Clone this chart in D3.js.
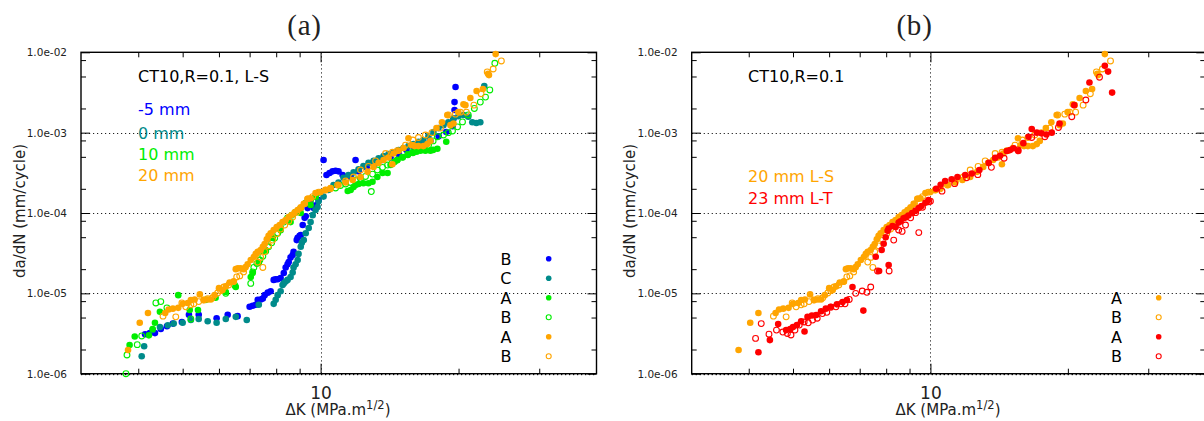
<!DOCTYPE html>
<html><head><meta charset="utf-8">
<script src="https://cdn.jsdelivr.net/npm/d3@7"></script>
<style>body{margin:0;background:#fff}svg{display:block}</style>
</head><body><svg id="c" width="1204" height="421"></svg>
<script>
// ---------------- data (ΔK in MPa.m^1/2, da/dN in mm/cycle) ----------------
const minus5B = [[4.14,3.1e-6],[4.24,3.2e-6],[4.35,3.2e-6],[4.48,3.6e-6],[4.62,3.9e-6],[4.76,4.2e-6],[4.98,4.4e-6],[5.16,5.4e-6],[5.42,5.4e-6],[5.93,4.9e-6],[6.27,5.4e-6],[6.59,5.2e-6],
[7.00,6.8e-6],[7.11,7.0e-6],[7.22,7.2e-6],[7.29,8.3e-6],[7.40,8.4e-6],[7.48,8.6e-6],[7.55,9.5e-6],[7.67,1.02e-5],[7.78,1.06e-5],[7.90,1.47e-5],[7.98,1.5e-5],[8.06,1.5e-5],[8.18,1.55e-5],[8.31,1.79e-5],[8.39,2.1e-5],[8.47,2.3e-5],[8.52,2.45e-5],[8.60,2.8e-5],[8.69,3.0e-5],[8.73,3.3e-5],[8.87,4.6e-5],[8.91,4.9e-5],[9.00,5.2e-5],[9.05,5.3e-5],[9.14,7.1e-5],[9.23,8.7e-5],[9.28,9.1e-5],[9.37,1.15e-4],[9.51,1.3e-4],[9.66,1.15e-4],[9.80,1.26e-4],[9.90,1.45e-4],
[10.15,4.56e-4],[10.30,2.97e-4],[10.46,3.15e-4],[10.62,3.3e-4],[10.78,3.35e-4],[10.94,3.3e-4],[11.17,2.97e-4],[11.92,4.56e-4],
[11.63,2.8e-4],[12.1,3.3e-4],[12.6,3.7e-4],[13.1,4.05e-4],[13.65,4.56e-4],[14.21,4.9e-4],[14.8,5.4e-4],[15.4,6.08e-4],[16.0,6.6e-4],[16.7,7.3e-4],[17.36,7.9e-4],[18.1,9.0e-4],[18.8,1.02e-3],[19.4,1.2e-3],[19.5,1.5e-3],[19.6,1.91e-3],[19.6,2.4e-3],[19.7,3.7e-3]];

const zeroC = [[4.07,1.65e-6],[4.12,2.2e-6],[4.30,3.5e-6],[4.46,3.8e-6],[4.64,4.0e-6],[4.78,4.2e-6],[5.00,4.3e-6],[5.21,4.65e-6],[5.42,4.8e-6],[5.67,4.5e-6],[5.93,4.3e-6],[6.21,4.8e-6],[6.53,5.1e-6],[6.90,4.65e-6],
[7.33,7.2e-6],[7.90,7.4e-6],[7.98,8.3e-6],[8.06,9.5e-6],[8.18,1.06e-5],[8.26,1.27e-5],[8.31,1.33e-5],[8.39,1.4e-5],[8.47,1.47e-5],[8.60,1.6e-5],[8.69,1.82e-5],[8.73,2.1e-5],[8.82,2.3e-5],[8.91,2.6e-5],[8.95,3.1e-5],[9.05,3.8e-5],[9.10,4.25e-5],[9.19,4.6e-5],[9.28,5.6e-5],[9.42,6.5e-5],[9.51,7.7e-5],[9.61,9.4e-5],[9.75,1.09e-4],[9.85,1.19e-4],[9.90,1.4e-4],
[10.15,1.6e-4],[10.4,1.93e-4],[10.67,2.23e-4],[10.94,2.4e-4],[11.22,2.75e-4],[11.5,2.97e-4],[11.8,3.2e-4],[12.1,3.5e-4],[12.4,3.85e-4],[12.72,4.2e-4],[13.05,4.45e-4],[13.38,4.8e-4],[13.72,5.1e-4],[14.07,5.4e-4],[14.43,5.7e-4],[14.8,6.08e-4],[15.17,6.45e-4],[15.55,6.8e-4],[15.95,7.2e-4],[16.35,7.7e-4],[16.76,8.1e-4],[17.19,9.1e-4],[17.63,1.02e-3],[18.08,1.14e-3],[18.54,1.24e-3],[19.0,1.35e-3],[19.49,1.5e-3],[19.98,1.6e-3],[20.5,1.66e-3],[21.0,1.58e-3],[21.43,1.35e-3],[21.87,1.32e-3],[22.31,1.35e-3],[22.76,3.8e-3]];

const tenA = [[3.83,2.28e-6],[3.93,2.9e-6],[4.22,3.0e-6],[4.30,3.6e-6],[4.35,4.3e-6],[4.46,5.9e-6],[4.89,9.5e-6],[5.18,6.2e-6],[5.40,6.2e-6],
[5.62,8.3e-6],[5.90,8.8e-6],[6.21,1.04e-5],[6.53,1.2e-5],[7.04,1.6e-5],[7.11,1.79e-5],[7.33,2.4e-5],[7.59,3.46e-5],[7.86,4.9e-5],[8.18,6.1e-5],[8.60,7.7e-5],[9.05,1.0e-4],[9.51,1.26e-4],[9.75,1.6e-4],[9.85,1.77e-4],
[11.46,1.88e-4],[11.63,1.93e-4],[11.8,2.1e-4],[11.92,2.23e-4],[12.1,2.3e-4],[12.4,2.35e-4],[12.72,2.35e-4],[12.98,2.45e-4],[13.3,2.8e-4],[13.65,3.15e-4],[14.0,3.15e-4],[14.21,3.95e-4],[14.5,4.3e-4],[14.7,4.56e-4],[15.1,4.95e-4],[15.5,5.27e-4],[15.9,5.6e-4],[16.2,5.8e-4],[16.52,5.95e-4],[16.93,5.95e-4],[17.36,5.95e-4],[17.6,6.1e-4],[17.98,6.3e-4],[18.8,7.7e-4]];

const tenB = [[3.76,1.0e-6],[3.78,1.71e-6],[3.98,2.3e-6],[4.07,2.95e-6],[4.37,7.6e-6],[4.48,7.9e-6],[4.62,6.6e-6],[5.21,4.8e-6],[6.21,1.0e-5],[6.50,1.25e-5],[7.04,1.33e-5],[7.11,1.85e-5],[7.15,2.1e-5],[7.26,2.35e-5],[7.37,2.6e-5],[7.48,2.9e-5],[7.59,3.35e-5],[7.70,3.8e-5],[7.82,4.25e-5],[7.94,4.9e-5],[8.06,5.6e-5],[8.18,6.5e-5],[8.31,7.7e-5],[8.47,8.7e-5],[8.65,9.4e-5],[8.82,1.02e-4],[9.05,1.15e-4],[9.28,1.33e-4],[9.51,1.45e-4],[9.75,1.6e-4],
[10.78,2.05e-4],[11.05,2.2e-4],[11.34,2.3e-4],[11.63,2.4e-4],[11.92,2.57e-4],[12.22,2.7e-4],[12.53,2.85e-4],[12.9,1.85e-4],[12.98,3.05e-4],[13.3,3.43e-4],[13.65,3.7e-4],[14.0,3.95e-4],[14.35,4.3e-4],[14.7,4.56e-4],[15.1,4.95e-4],[15.5,5.4e-4],[15.9,5.75e-4],[16.3,6.08e-4],[16.7,6.45e-4],[17.2,7.0e-4],[17.6,7.9e-4],[17.98,8.9e-4],[18.54,9.35e-4],[19.0,1.0e-3],[19.4,1.05e-3],[19.9,1.18e-3],[20.4,1.36e-3],[21.0,1.66e-3],[21.65,2.0e-3],[22.31,2.4e-3],[22.9,2.77e-3],[23.4,3.4e-3],[24.0,7.3e-3]];

const twentyA = [[3.80,1.97e-6],[4.03,4.3e-6],[4.20,5.7e-6],[4.58,5.7e-6],[4.66,6.3e-6],[4.76,6.45e-6],[4.89,6.6e-6],[5.00,7.4e-6],[5.13,7.6e-6],[5.21,8.25e-6],[5.31,8.4e-6],[5.45,9.7e-6],[5.56,8.25e-6],[5.67,8.4e-6],[5.76,8.4e-6],[5.87,9.5e-6],[6.00,1.16e-5],[6.11,1.1e-5],[6.21,1.22e-5],[6.33,1.36e-5],[6.46,1.4e-5],[6.53,2.0e-5],[6.60,2.05e-5],[6.69,2.05e-5],[6.79,2.0e-5],[6.86,2.12e-5],[6.93,2.3e-5],[7.04,2.6e-5],[7.15,2.85e-5],[7.22,3.1e-5],[7.29,3.3e-5],[7.40,3.46e-5],[7.48,3.8e-5],[7.55,4.1e-5],[7.63,4.7e-5],[7.70,5.2e-5],[7.78,5.6e-5],[7.90,6.14e-5],[8.02,6.7e-5],[8.14,7.08e-5],[8.26,7.7e-5],[8.39,8.17e-5],[8.52,8.9e-5],[8.65,9.44e-5],[8.78,1.02e-4],[8.91,1.09e-4],[9.05,1.18e-4],[9.19,1.3e-4],[9.37,1.5e-4],[9.51,1.52e-4],[9.75,1.77e-4],
[10.0,1.82e-4],[10.25,1.93e-4],[10.51,2.05e-4],[10.94,2.23e-4],[11.34,2.4e-4],[11.75,2.57e-4],[12.22,2.8e-4],[12.66,3.25e-4],[13.05,3.75e-4],[13.38,4.2e-4],[13.72,4.56e-4],[14.07,4.9e-4],[14.34,4.05e-4],[14.43,5.5e-4],[14.8,5.95e-4],[15.17,6.45e-4],[15.55,8.5e-4],[15.78,7.0e-4],[16.03,6.8e-4],[16.35,6.8e-4],[16.76,6.8e-4],[17.1,7.2e-4],[17.36,7.9e-4],[17.9,1.14e-3],[18.4,1.35e-3],[18.9,1.66e-3],[19.2,1.24e-3],[19.5,1.3e-3],[19.98,1.8e-3],[20.5,2.25e-3],[20.7,2.2e-3],[21.22,2.7e-3],[21.9,3.3e-3],[22.6,3.5e-3],[23.2,5.4e-3],[23.3,5.2e-3],[24.1,9.5e-3]];

const twentyB = [[4.53,5.2e-6],[4.83,5.1e-6],[4.98,7.6e-6],[5.08,6.8e-6],[5.21,7.2e-6],[5.29,7.4e-6],[5.42,7.9e-6],[5.56,8.25e-6],[5.67,8.6e-6],[5.81,8.8e-6],[5.96,1.01e-5],[6.05,1.08e-5],[6.15,1.2e-5],[6.30,1.27e-5],[6.46,1.4e-5],[6.56,1.6e-5],[6.66,1.65e-5],[6.79,1.85e-5],[7.48,2.1e-5],[7.29,2.45e-5],[7.40,2.8e-5],[7.55,3.3e-5],[7.70,3.9e-5],[7.86,4.6e-5],[8.02,5.5e-5],[8.18,6.3e-5],[8.35,7.08e-5],[8.52,7.9e-5],[8.69,8.9e-5],[8.87,1.02e-4],[9.05,1.15e-4],[9.23,1.3e-4],[9.37,1.5e-4],[9.61,1.6e-4],[9.90,1.82e-4],
[10.25,1.93e-4],[10.51,2.0e-4],[10.89,2.23e-4],[11.34,2.5e-4],[11.8,2.8e-4],[12.22,3.43e-4],[12.72,3.8e-4],[13.18,4.45e-4],[13.86,5.5e-4],[14.35,5.7e-4],[14.7,5.95e-4],[15.32,7.0e-4],[15.9,8.1e-4],[16.35,8.7e-4],[16.93,9.35e-4],[17.5,1.0e-3],[18.26,1.14e-3],[19.0,1.66e-3],[19.69,1.7e-3],[20.18,1.8e-3],[20.8,1.8e-3],[21.6,2.2e-3],[22.4,3.05e-3],[23.1,5.7e-3],[23.8,6.2e-3],[24.8,7.8e-3]];

const ltA = [[4.20,1.85e-6],[4.45,2.62e-6],[4.64,4.16e-6],[4.83,3.49e-6],[4.93,3.6e-6],[5.00,3.8e-6],[5.10,4.03e-6],[5.21,4.5e-6],[5.30,3.35e-6],[5.38,5.1e-6],[5.50,5.3e-6],[5.62,5.37e-6],[5.76,6.0e-6],[5.90,6.45e-6],[6.05,6.8e-6],[6.24,7.3e-6],[6.42,7.8e-6],[6.56,8.25e-6],[6.75,1.2e-5],[7.13,6.1e-6],[7.59,2.85e-5],[7.72,1.9e-5],[7.82,3.46e-5],[7.90,4.15e-5],[7.98,5.0e-5],[8.10,2.25e-5],[8.06,6.0e-5],[8.10,6.4e-5],[8.26,6.9e-5],[8.39,6.7e-5],[8.52,7.6e-5],[8.60,7.9e-5],[8.73,8.6e-5],[8.82,8.8e-5],[8.95,9.3e-5],[9.12,1.0e-4],[9.28,1.07e-4],[9.43,1.15e-4],[9.56,1.22e-4],[9.75,1.34e-4],[9.90,1.45e-4],
[10.29,2.0e-4],[10.53,2.25e-4],[10.77,2.5e-4],[11.13,2.63e-4],[11.46,2.8e-4],[11.92,2.97e-4],[12.32,3.1e-4],[12.8,3.43e-4],[13.42,4.2e-4],[13.86,4.85e-4],[14.21,5.15e-4],[14.7,5.9e-4],[14.94,6.08e-4],[15.2,6.4e-4],[15.58,5.9e-4],[15.98,7.4e-4],[16.4,8.9e-4],[16.67,1.11e-3],[17.1,1.0e-3],[17.5,9.8e-4],[17.95,9.5e-4],[18.44,1.0e-3],[19.18,1.3e-3],[20.65,2.2e-3],[22.3,4.2e-3],[24.1,6.8e-3],[24.5,5.75e-3],[25.0,3.15e-3]];

const ltB = [[4.14,2.75e-6],[4.26,4.2e-6],[4.43,3.1e-6],[4.60,3.49e-6],[4.75,3.3e-6],[4.86,3.17e-6],[4.95,3.03e-6],[5.05,3.49e-6],[5.16,4.03e-6],[5.29,4.4e-6],[5.40,4.3e-6],[5.52,4.65e-6],[5.65,4.9e-6],[5.80,5.6e-6],[5.93,5.8e-6],[6.05,6.7e-6],[6.21,6.8e-6],[6.37,7.4e-6],[6.50,7.4e-6],[6.64,8.4e-6],[6.86,1.0e-5],[7.09,1.07e-5],[7.26,1.03e-5],[7.40,1.2e-5],[7.66,1.9e-5],[8.12,1.9e-5],[8.31,4.6e-5],[8.52,6.14e-5],[8.67,5.9e-5],[8.82,7.08e-5],[9.05,8.7e-5],[9.28,1.01e-4],[9.43,5.7e-5],[9.61,1.18e-4],[9.92,1.38e-4],
[10.0,1.4e-4],[10.6,1.87e-4],[11.3,2.32e-4],[12.0,2.75e-4],[12.7,3.0e-4],[13.6,3.7e-4],[14.5,4.8e-4],[15.55,6.08e-4],[16.67,8.7e-4],[17.81,8.9e-4],[19.07,1.16e-3],[20.4,1.58e-3],[21.9,2.55e-3],[23.46,4.9e-3]];

// axis ticks / labels
const yMajorTicks = [1e-6,1e-5,1e-4,1e-3,1e-2];
const yTickLabels = ["1.0e-06","1.0e-05","1.0e-04","1.0e-03","1.0e-02"];
const yMinorTicks = [2e-6,5e-6,8e-6,2e-5,5e-5,8e-5,2e-4,5e-4,8e-4,2e-3,5e-3,8e-3];
const xMajorTicks = [10];
const xTickLabels = ["10"];
const xMinorTicks = [4,5,6,7,8,9,20,30];
const xDomain = [3,40];
const yDomain = [1e-6,1e-2];

const panelA = {
  title:"(a)", titleX:304.5, x0:81, x1:596.5, ylabX:24.5, xlabX:338,
  header:"CT10,R=0.1, L-S", textX:138,
  notes:[["-5 mm","#0000ff",115],["0 mm","#008b8b",138.5],["10 mm","#00ee00",160],["20 mm","#ffa500",181]],
  series:[
    {data:minus5B,color:"#0000ff",open:false,label:"B"},
    {data:zeroC,color:"#008b8b",open:false,label:"C"},
    {data:tenA,color:"#00ee00",open:false,label:"A"},
    {data:tenB,color:"#00ee00",open:true,label:"B"},
    {data:twentyA,color:"#ffa500",open:false,label:"A"},
    {data:twentyB,color:"#ffa500",open:true,label:"B"}],
  legX:511.5, legMX:548.7, legY0:258.7
};
const panelB = {
  title:"(b)", titleX:914.5, x0:691.7, x1:1205.3, ylabX:634.5, xlabX:948,
  header:"CT10,R=0.1", textX:748,
  notes:[["20 mm L-S","#ffa500",181.5],["23 mm L-T","#ff0000",204]],
  series:[
    {data:twentyA,color:"#ffa500",open:false,label:"A"},
    {data:twentyB,color:"#ffa500",open:true,label:"B"},
    {data:ltA,color:"#ff0000",open:false,label:"A"},
    {data:ltB,color:"#ff0000",open:true,label:"B"}],
  legX:1122, legMX:1158.7, legY0:297.7
};

const svg = d3.select("#c");
const yTop = 52.3, yBot = 373.7;
const SANS = "'DejaVu Sans', Verdana, sans-serif";

function drawPanel(p){
  const g = svg.append("g");
  const x = d3.scaleLog().domain(xDomain).range([p.x0,p.x1]);
  const y = d3.scaleLog().domain(yDomain).range([yBot,yTop]);

  // header texts
  g.append("text").attr("x",p.textX).attr("y",82).attr("font-family",SANS).attr("font-size",16).attr("fill","#000").text(p.header);
  p.notes.forEach(n=>{
    g.append("text").attr("x",p.textX).attr("y",n[2]).attr("font-family",SANS).attr("font-size",16).attr("fill",n[1]).text(n[0]);
  });

  // grid
  const grid = g.append("g").attr("stroke","#222").attr("stroke-width",1).attr("stroke-dasharray","1.2,2.8");
  grid.selectAll("line.gy").data(yMajorTicks).join("line")
    .attr("x1",p.x0).attr("x2",p.x1).attr("y1",d=>Math.round(y(d))+0.5).attr("y2",d=>Math.round(y(d))+0.5);
  grid.selectAll("line.gx").data(xMajorTicks).join("line")
    .attr("x1",d=>Math.round(x(d))+0.5).attr("x2",d=>Math.round(x(d))+0.5).attr("y1",yTop).attr("y2",yBot);

  // axes (ticks pointing inwards)
  const styleAx = sel => { sel.select(".domain").remove(); sel.selectAll("line").attr("stroke","#000"); sel.selectAll("text").attr("font-family",SANS).attr("fill","#222"); };
  g.append("g").attr("transform",`translate(${p.x0},0)`)
    .call(d3.axisLeft(y).tickValues(yMajorTicks).tickSize(-9).tickPadding(14).tickFormat((d,i)=>yTickLabels[i]))
    .call(styleAx).selectAll("text").attr("font-size",10.5);
  g.append("g").attr("transform",`translate(${p.x0},0)`)
    .call(d3.axisLeft(y).tickValues(yMinorTicks).tickSize(-5).tickFormat("")).call(styleAx);
  g.append("g").attr("transform",`translate(${p.x1},0)`)
    .call(d3.axisRight(y).tickValues(yMajorTicks).tickSize(-9).tickFormat("")).call(styleAx);
  g.append("g").attr("transform",`translate(${p.x1},0)`)
    .call(d3.axisRight(y).tickValues(yMinorTicks).tickSize(-5).tickFormat("")).call(styleAx);
  g.append("g").attr("transform",`translate(0,${yBot})`)
    .call(d3.axisBottom(x).tickValues(xMajorTicks).tickSize(-10).tickPadding(13).tickFormat((d,i)=>xTickLabels[i]))
    .call(styleAx).selectAll("text").attr("font-size",17);
  g.append("g").attr("transform",`translate(0,${yBot})`)
    .call(d3.axisBottom(x).tickValues(xMinorTicks).tickSize(-5).tickFormat("")).call(styleAx);
  g.append("g").attr("transform",`translate(0,${yTop})`)
    .call(d3.axisTop(x).tickValues(xMajorTicks).tickSize(-10).tickFormat("")).call(styleAx);
  g.append("g").attr("transform",`translate(0,${yTop})`)
    .call(d3.axisTop(x).tickValues(xMinorTicks).tickSize(-5).tickFormat("")).call(styleAx);

  // border
  g.append("rect").attr("x",p.x0).attr("y",yTop).attr("width",p.x1-p.x0).attr("height",yBot-yTop)
    .attr("fill","none").attr("stroke","#000").attr("stroke-width",1.4);
  g.append("line").attr("x1",p.x0).attr("x2",p.x1).attr("y1",yBot+1).attr("y2",yBot+1)
    .attr("stroke","#000").attr("stroke-width",1).attr("stroke-dasharray","1.2,2.8");

  // data
  p.series.forEach(s=>{
    g.append("g").selectAll("circle").data(s.data).join("circle")
      .attr("cx",d=>x(d[0])).attr("cy",d=>y(d[1]))
      .attr("r",s.open?2.9:3.3)
      .attr("fill",s.open?"none":s.color)
      .attr("stroke",s.open?s.color:"none").attr("stroke-width",1.1);
  });

  // legend
  p.series.forEach((s,i)=>{
    const cy = p.legY0 + i*19.5;
    g.append("text").attr("x",p.legX).attr("y",cy+5.8).attr("text-anchor","end")
      .attr("font-family",SANS).attr("font-size",16).attr("fill","#000").text(s.label);
    g.append("circle").attr("cx",p.legMX).attr("cy",cy).attr("r",s.open?2.5:2.8)
      .attr("fill",s.open?"none":s.color).attr("stroke",s.open?s.color:"none").attr("stroke-width",1.1);
  });

  // axis titles
  const xl = g.append("text").attr("x",p.xlabX).attr("y",415).attr("text-anchor","middle")
    .attr("font-family",SANS).attr("font-size",15).attr("fill","#222");
  xl.append("tspan").text("ΔK (MPa.m");
  xl.append("tspan").attr("dy",-6).attr("font-size",11.5).text("1/2");
  xl.append("tspan").attr("dy",6).text(")");
  g.append("text").attr("transform",`translate(${p.ylabX},${(yTop+yBot)/2 - 2}) rotate(-90)`)
    .attr("text-anchor","middle").attr("font-family",SANS).attr("font-size",15).attr("fill","#222")
    .text("da/dN (mm/cycle)");
  g.append("text").attr("x",p.titleX).attr("y",35).attr("text-anchor","middle")
    .attr("font-family","'Liberation Serif','DejaVu Serif',serif").attr("font-size",29).attr("letter-spacing",0.8).attr("fill","#222").text(p.title);
}
drawPanel(panelA);
drawPanel(panelB);
</script></body></html>
